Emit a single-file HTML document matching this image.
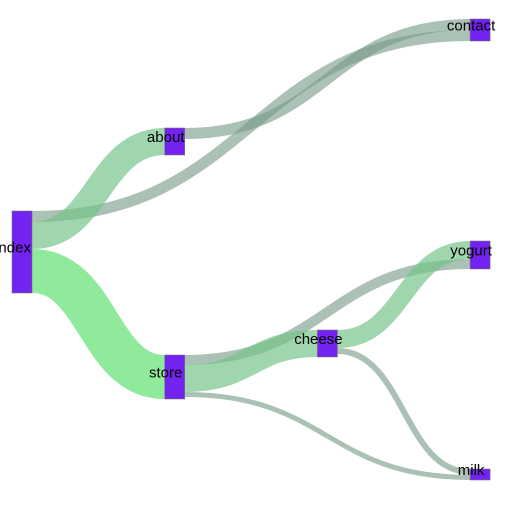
<!DOCTYPE html>
<html><head><meta charset="utf-8"><style>
html,body{margin:0;padding:0;background:#fff;}
svg{display:block;font-family:"Liberation Sans",Arial,sans-serif;}
</style></head><body>
<svg id="chart" width="515" height="510" viewBox="0 0 515 510">
<g id="links"></g>
<g id="nodes"></g>
<g id="labels"></g>
</svg>
<script>
const nodeNames = ["index","about","contact","store","cheese","yogurt","milk"];
const nodeColumn = [0,1,3,1,2,3,3];
const nodeTop = [211,128,19,355,330,241,469];
const linkSource = ["index","index","index","about","store","store","store","cheese","cheese"];
const linkTarget = ["contact","about","store","contact","yogurt","cheese","milk","yogurt","milk"];
const linkValue = [11,27,44,11,10,27,5,18,6];
const linkColor = ["g","m","l","g","g","m","g","m","g"];

const colX = c => 12 + c*152.7;
const nodeW = 20;
const colors = {g:"rgba(120,155,135,0.62)", m:"rgba(115,195,135,0.68)", l:"#90ea9b"};
const NS = "http://www.w3.org/2000/svg";
const idx = n => nodeNames.indexOf(n);
const heights = nodeNames.map((n,i)=>{
  let s=0,t=0;
  linkSource.forEach((x,j)=>{ if(x===n) s+=linkValue[j]; });
  linkTarget.forEach((x,j)=>{ if(x===n) t+=linkValue[j]; });
  return Math.max(s,t);
});
const order = linkValue.map((_,j)=>j);
const sy = {}, ty = {};
nodeNames.forEach((n,i)=>{
  let y = nodeTop[i];
  order.filter(j=>linkSource[j]===n).sort((a,b)=>nodeTop[idx(linkTarget[a])]-nodeTop[idx(linkTarget[b])])
    .forEach(j=>{ sy[j]=y+linkValue[j]/2; y+=linkValue[j]; });
  y = nodeTop[i];
  order.filter(j=>linkTarget[j]===n).sort((a,b)=>nodeTop[idx(linkSource[a])]-nodeTop[idx(linkSource[b])])
    .forEach(j=>{ ty[j]=y+linkValue[j]/2; y+=linkValue[j]; });
});
const lg = document.getElementById('links');
order.forEach(j=>{
  const s=idx(linkSource[j]), t=idx(linkTarget[j]);
  const x0=colX(nodeColumn[s])+nodeW, x1=colX(nodeColumn[t]), xm=(x0+x1)/2;
  const p=document.createElementNS(NS,'path');
  p.setAttribute('d',`M${x0},${sy[j]}C${xm},${sy[j]} ${xm},${ty[j]} ${x1},${ty[j]}`);
  p.setAttribute('fill','none');
  p.setAttribute('stroke',colors[linkColor[j]]);
  p.setAttribute('stroke-width',linkValue[j]);
  
  
  lg.appendChild(p);
});
const ng=document.getElementById('nodes'), tg=document.getElementById('labels');
nodeNames.forEach((n,i)=>{
  const r=document.createElementNS(NS,'rect');
  r.setAttribute('x',colX(nodeColumn[i])); r.setAttribute('y',nodeTop[i]);
  r.setAttribute('width',nodeW); r.setAttribute('height',heights[i]);
  r.setAttribute('fill','#7323f0'); r.setAttribute('stroke','#777'); r.setAttribute('stroke-width','0.6');
  
  
  ng.appendChild(r);
  const t=document.createElementNS(NS,'text');
  t.setAttribute('x',colX(nodeColumn[i])+1); t.setAttribute('y',nodeTop[i]+heights[i]/2+0.5);
  t.setAttribute('text-anchor','middle'); t.setAttribute('font-size','15'); t.setAttribute('fill','#000');
  t.textContent=n;
  
  
  tg.appendChild(t);
});
</script>
</body></html>
